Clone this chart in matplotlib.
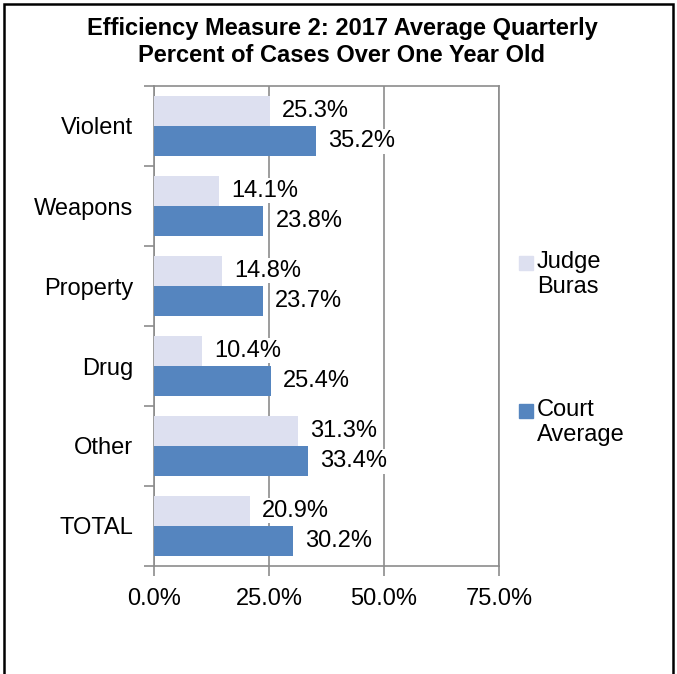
import matplotlib.pyplot as plt
from matplotlib.patches import Rectangle
import numpy as np

plt.rcParams['font.family'] = ['Liberation Sans', 'DejaVu Sans']

categories = ['Violent', 'Weapons', 'Property', 'Drug', 'Other', 'TOTAL']
judge = [25.3, 14.1, 14.8, 10.4, 31.3, 20.9]
court = [35.2, 23.8, 23.7, 25.4, 33.4, 30.2]
xticks = [0, 25, 50, 75]
series = ['Judge\nBuras', 'Court\nAverage']

light = '#dde0f0'
dark = '#5585bf'
grey = '#8c8c8c'
fs = 17

fig = plt.figure(figsize=(6.77, 6.74), dpi=100)
ax = fig.add_axes([154/677, 1 - 566/674, 345/677, 480/674])

n = len(categories)
ypos = np.arange(n)[::-1]
h = 0.38
ax.barh(ypos + h/2, judge, height=h, color=light, zorder=3)
ax.barh(ypos - h/2, court, height=h, color=dark, zorder=3)

for y, v in zip(ypos, judge):
    ax.text(v + 2.6, y + h/2, f'{v:.1f}%', va='center', ha='left', fontsize=fs,
            zorder=4, bbox=dict(facecolor='white', edgecolor='none', pad=1))
for y, v in zip(ypos, court):
    ax.text(v + 2.6, y - h/2, f'{v:.1f}%', va='center', ha='left', fontsize=fs,
            zorder=4, bbox=dict(facecolor='white', edgecolor='none', pad=1))

ax.set_xlim(0, 75)
ax.set_ylim(-0.5, n - 0.5)
ax.set_xticks(xticks)
ax.set_xticklabels([f'{t:.1f}%' for t in xticks], fontsize=fs)
ax.xaxis.grid(True, color=grey, linewidth=1.2, zorder=0)

ax.set_yticks(np.arange(-0.5, n, 1.0))
ax.set_yticklabels([])
ax.set_yticks(ypos, minor=True)
ax.set_yticklabels(categories, minor=True, fontsize=fs)
ax.tick_params(axis='y', which='minor', length=0, pad=15)
ax.tick_params(axis='y', which='major', length=7, color=grey, width=1.2)
ax.tick_params(axis='x', length=7, color=grey, width=1.2, pad=9)

for s in ax.spines.values():
    s.set_color(grey)
    s.set_linewidth(1.2)

# legend, drawn by hand so the swatch sits beside the first line
for lab, col, top in zip(series, [light, dark], [256, 404]):
    fig.patches.append(Rectangle((519/677, 1 - (top + 14)/674), 14/677, 14/674,
                                 transform=fig.transFigure, color=col))
    fig.text(537/677, 1 - (top - 5)/674, lab, ha='left', va='top', fontsize=fs,
             linespacing=1.15)

fig.text(342/677, 1 - 28/674, 'Efficiency Measure 2: 2017 Average Quarterly',
         ha='center', va='center', fontsize=fs, fontweight='bold')
fig.text(342/677, 1 - 55/674, 'Percent of Cases Over One Year Old',
         ha='center', va='center', fontsize=fs, fontweight='bold')

fig.patches.append(Rectangle((4/677, -0.05), 669/677, 1 - 4/674 + 0.05,
                             transform=fig.transFigure, fill=False,
                             edgecolor='black', linewidth=1.8))

fig.savefig('out.png', dpi=100)
